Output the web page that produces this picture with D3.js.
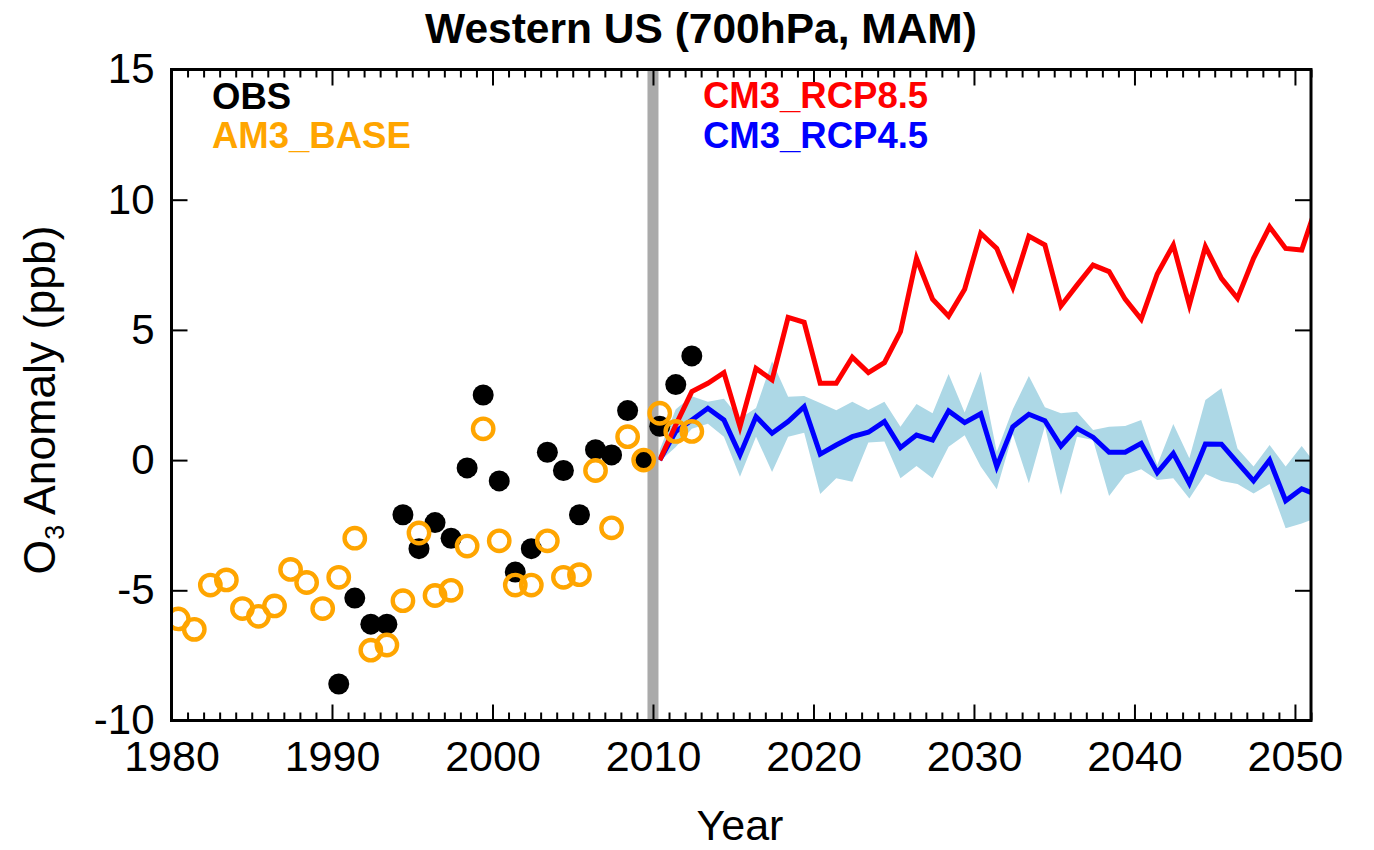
<!DOCTYPE html>
<html>
<head>
<meta charset="utf-8">
<script src="https://cdn.jsdelivr.net/npm/d3@7"></script>
<style>
  html, body { margin: 0; padding: 0; background: #fff; }
  svg { display: block; font-family: "Liberation Sans", Arial, Helvetica, sans-serif; }
</style>
</head>
<body>
<svg id="chart" width="1374" height="850"></svg>
<script>
// ---- data -----------------------------------------------------------
const obsYears = d3.range(1990, 2013);
const obsValues = [-8.6, -5.3, -6.3, -6.3, -2.1, -3.4, -2.4, -3.0, -0.3, 2.5,
                   -0.8, -4.3, -3.4, 0.3, -0.4, -2.1, 0.4, 0.2, 1.9, 0.0,
                   1.3, 2.9, 4.0];

const am3Years = d3.range(1980, 2013);
const am3Values = [-6.1, -6.5, -4.8, -4.6, -5.7, -6.0, -5.6, -4.2, -4.7, -5.7,
                   -4.5, -3.0, -7.3, -7.1, -5.4, -2.8, -5.2, -5.0, -3.3, 1.2,
                   -3.1, -4.8, -4.8, -3.1, -4.5, -4.4, -0.4, -2.6, 0.9, 0.0,
                   1.8, 1.1, 1.1];

const cm3Years = d3.range(2010, 2052);
const rcp85 = [0.0, 1.35, 2.63, 2.95, 3.36, 1.28, 3.52, 3.08, 5.48, 5.29,
               2.95, 2.95, 3.95, 3.36, 3.74, 4.93, 7.75, 6.18, 5.53, 6.56,
               8.71, 8.13, 6.64, 8.6, 8.26, 5.92, 6.72, 7.49, 7.24, 6.18,
               5.41, 7.15, 8.26, 5.96, 8.2, 6.98, 6.21, 7.75, 8.96, 8.13,
               8.07, 9.9];
const rcp45 = [0.0, 1.1, 1.54, 1.99, 1.54, 0.2, 1.67, 1.03, 1.48, 2.05,
               0.23, 0.58, 0.9, 1.07, 1.48, 0.48, 0.96, 0.77, 1.89, 1.44,
               1.78, -0.25, 1.28, 1.76, 1.51, 0.54, 1.22, 0.88, 0.3, 0.3,
               0.64, -0.48, 0.26, -0.89, 0.62, 0.61, -0.1, -0.8, 0.0, -1.56,
               -1.1, -1.35];
const rcp45High = [0.4, 1.95, 2.45, 2.24, 2.36, 1.6, 2.0, 3.8, 2.43, 2.46,
                   2.19, 1.91, 2.24, 1.92, 2.24, 1.28, 2.15, 1.8, 3.31, 1.83,
                   3.4, 0.32, 1.95, 3.23, 2.03, 1.8, 1.86, 1.16, 1.28, 1.31,
                   1.54, -0.19, 1.39, 0.07, 2.31, 2.76, 0.45, -0.25, 0.58, -0.25,
                   0.54, -0.25];
const rcp45Low = [-0.05, 0.5, 1.2, 1.4, 0.9, -0.64, 0.9, -0.46, 0.9, 1.05,
                  -1.3, -0.7, -0.83, 0.68, 0.71, -0.7, -0.23, -0.7, 0.51, 0.95,
                  -0.25, -1.12, 1.0, -0.89, 1.3, -1.34, 0.9, 0.77, -1.38, -0.57,
                  -0.35, -0.76, -0.7, -1.47, -0.53, -0.8, -0.92, -1.28, -0.92, -2.62,
                  -2.43, -2.2];

const xMajorTicks = [1980, 1990, 2000, 2010, 2020, 2030, 2040, 2050];
const yTicks = [-10, -5, 0, 5, 10, 15];
const splitYear = 2010;

const titleText = "Western US (700hPa, MAM)";
const xLabel = "Year";

// annual values sit slightly into their year on the time axis
const seasonOffset = 0.42;

// ---- layout ---------------------------------------------------------
const svg = d3.select("#chart");
const plotL = 171.5, plotR = 1311, plotT = 69.5, plotB = 720.5;

const x = d3.scaleLinear().domain([1980, 2051]).range([plotL, plotR]);
const y = d3.scaleLinear().domain([-10, 15]).range([plotB, plotT]);
const xt = yr => x(yr + seasonOffset);
const plainNumber = d => String(d);   // keep an ASCII hyphen for negatives

svg.append("defs").append("clipPath").attr("id", "plotClip")
  .append("rect").attr("x", plotL).attr("y", plotT)
  .attr("width", plotR - plotL).attr("height", plotB - plotT);

const plot = svg.append("g").attr("clip-path", "url(#plotClip)");

// RCP4.5 spread
const cm3 = cm3Years.map((yr, i) => ({yr, hi: rcp45High[i], lo: rcp45Low[i], r45: rcp45[i], r85: rcp85[i]}));
plot.append("path")
  .datum(cm3)
  .attr("fill", "#ADD8E6")
  .attr("d", d3.area().x(d => xt(d.yr)).y0(d => y(d.lo)).y1(d => y(d.hi)));

// scenario lines
plot.append("path")
  .datum(cm3)
  .attr("fill", "none").attr("stroke", "#0000FF").attr("stroke-width", 5)
  .attr("stroke-linejoin", "miter")
  .attr("d", d3.line().x(d => xt(d.yr)).y(d => y(d.r45)));
plot.append("path")
  .datum(cm3)
  .attr("fill", "none").attr("stroke", "#FF0000").attr("stroke-width", 5)
  .attr("stroke-linejoin", "miter")
  .attr("d", d3.line().x(d => xt(d.yr)).y(d => y(d.r85)));

// divider between hindcast and projection
plot.append("line")
  .attr("x1", x(splitYear)).attr("x2", x(splitYear))
  .attr("y1", plotT).attr("y2", plotB)
  .attr("stroke", "#AAAAAA").attr("stroke-width", 11);

// observations
plot.append("g").selectAll("circle")
  .data(obsYears.map((yr, i) => ({yr, v: obsValues[i]})))
  .join("circle")
  .attr("cx", d => xt(d.yr)).attr("cy", d => y(d.v))
  .attr("r", 10.5).attr("fill", "#000");

// AM3 hindcast
plot.append("g").selectAll("circle")
  .data(am3Years.map((yr, i) => ({yr, v: am3Values[i]})))
  .join("circle")
  .attr("cx", d => xt(d.yr)).attr("cy", d => y(d.v))
  .attr("r", 10.2).attr("fill", "none")
  .attr("stroke", "#FFA500").attr("stroke-width", 4.4);

// ---- axes -----------------------------------------------------------
const minorYears = d3.range(1980, 2052).filter(v => v % 10 !== 0);

function styleAxis(g) {
  g.select(".domain").remove();
  g.selectAll(".tick line").attr("stroke", "#000").attr("stroke-width", 2);
}

svg.append("g").attr("transform", `translate(0,${plotB})`)
  .call(d3.axisBottom(x).tickValues(minorYears).tickSize(-8).tickFormat(""))
  .call(styleAxis);
svg.append("g").attr("transform", `translate(0,${plotT})`)
  .call(d3.axisTop(x).tickValues(minorYears).tickSize(-8).tickFormat(""))
  .call(styleAxis);
svg.append("g").attr("transform", `translate(0,${plotT})`)
  .call(d3.axisTop(x).tickValues(xMajorTicks).tickSize(-16).tickFormat(""))
  .call(styleAxis);
svg.append("g").attr("transform", `translate(${plotR},0)`)
  .call(d3.axisRight(y).tickValues(yTicks).tickSize(-16).tickFormat(""))
  .call(styleAxis);

const xAxis = svg.append("g").attr("transform", `translate(0,${plotB})`)
  .call(d3.axisBottom(x).tickValues(xMajorTicks).tickSize(-16).tickPadding(20).tickFormat(plainNumber))
  .call(styleAxis);
xAxis.selectAll(".tick text").attr("font-size", 43).attr("fill", "#000")
  .attr("font-family", '"Liberation Sans", Arial, sans-serif');

const yAxis = svg.append("g").attr("transform", `translate(${plotL},0)`)
  .call(d3.axisLeft(y).tickValues(yTicks).tickSize(-16).tickPadding(17).tickFormat(plainNumber))
  .call(styleAxis);
yAxis.selectAll(".tick text").attr("font-size", 42).attr("fill", "#000")
  .attr("font-family", '"Liberation Sans", Arial, sans-serif');

// frame
svg.append("rect")
  .attr("x", plotL).attr("y", plotT)
  .attr("width", plotR - plotL).attr("height", plotB - plotT)
  .attr("fill", "none").attr("stroke", "#000").attr("stroke-width", 3);

// ---- text -----------------------------------------------------------
svg.append("text")
  .attr("x", 701).attr("y", 43)
  .attr("text-anchor", "middle")
  .attr("font-size", 42.5).attr("font-weight", "bold")
  .text(titleText);

svg.append("text")
  .attr("x", 740).attr("y", 840)
  .attr("text-anchor", "middle")
  .attr("font-size", 43)
  .text(xLabel);

const yLab = svg.append("text")
  .attr("transform", "translate(55,400) rotate(-90)")
  .attr("text-anchor", "middle")
  .attr("font-size", 44.5);
yLab.append("tspan").text("O");
yLab.append("tspan").attr("font-size", 27).attr("dy", 9).text("3");
yLab.append("tspan").attr("dy", -9).text(" Anomaly (ppb)");

const legend = [
  {label: "OBS", color: "#000000", lx: 212, ly: 109},
  {label: "AM3_BASE", color: "#FFA500", lx: 212, ly: 148},
  {label: "CM3_RCP8.5", color: "#FF0000", lx: 703, ly: 108},
  {label: "CM3_RCP4.5", color: "#0000FF", lx: 703, ly: 148}
];
svg.append("g").selectAll("text")
  .data(legend)
  .join("text")
  .attr("x", d => d.lx).attr("y", d => d.ly)
  .attr("fill", d => d.color)
  .attr("font-size", 36.5).attr("font-weight", "bold")
  .text(d => d.label);
</script>
</body>
</html>
